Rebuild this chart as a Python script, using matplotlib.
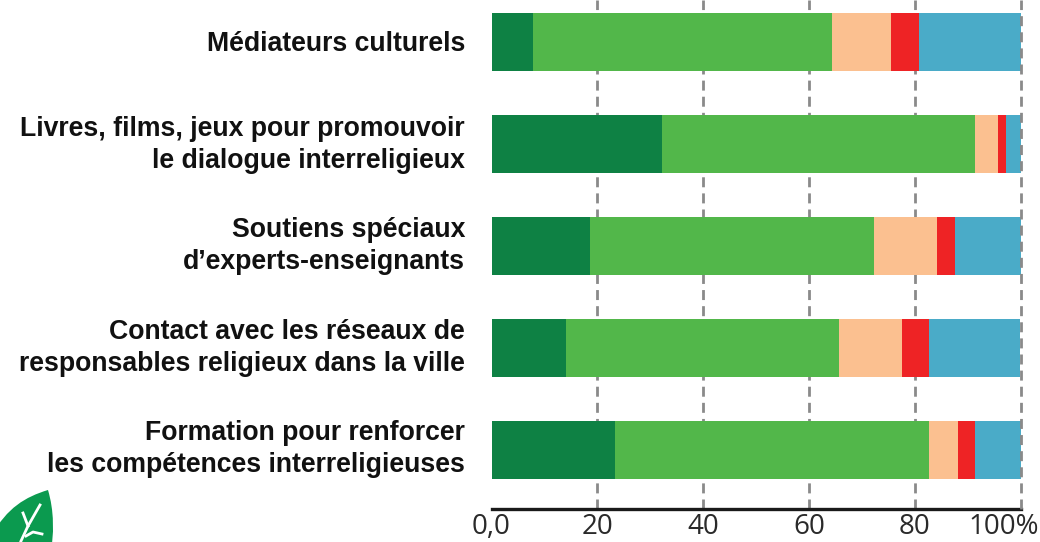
import numpy as np
import matplotlib
matplotlib.use("Agg")
import matplotlib.pyplot as plt
from matplotlib.path import Path
from matplotlib.patches import PathPatch
from matplotlib.transforms import ScaledTranslation

W, H = 1040, 542

categories = [
    "Médiateurs culturels",
    "Livres, films, jeux pour promouvoir\nle dialogue interreligieux",
    "Soutiens spéciaux\nd’experts-enseignants",
    "Contact avec les réseaux de\nresponsables religieux dans la ville",
    "Formation pour renforcer\nles compétences interreligieuses",
]
dark_green = [7.8, 32.2, 18.6, 14.1, 23.3]
light_green = [56.6, 59.2, 53.7, 51.6, 59.4]
peach = [11.1, 4.3, 11.9, 11.9, 5.5]
red = [5.3, 1.6, 3.4, 5.1, 3.2]
blue = [19.2, 2.7, 12.4, 17.3, 8.6]
series = [dark_green, light_green, peach, red, blue]
colors = ["#0e8144", "#52b74a", "#fbc090", "#ee2325", "#4aabc8"]
tick_pos = [0, 20, 40, 60, 80, 100]
tick_labels = ["0,0", "20", "40", "60", "80", "100%"]

fig = plt.figure(figsize=(W / 100, H / 100), dpi=100)
ax = fig.add_axes([491.5 / W, 1 - 509 / H, 529 / W, 509 / H])
ax.patch.set_alpha(0)

y = np.arange(len(categories))
left = np.zeros(len(categories))
for vals, col in zip(series, colors):
    ax.barh(y, vals, left=left, height=0.57, color=col, zorder=3)
    left += np.array(vals)

ax.set_xlim(0, 100)
ax.set_ylim(4.58, -0.41)

# dashed guides, the last one shows over the bar ends
for t in tick_pos[1:]:
    ax.axvline(t, color="#8a8a8a", lw=2, dashes=(3.6, 2.2), zorder=2 if t < 100 else 4, clip_on=False)

for s in ["top", "left", "right"]:
    ax.spines[s].set_visible(False)
ax.spines["bottom"].set_linewidth(2.4)
ax.spines["bottom"].set_color("#1a1a1a")
ax.spines["bottom"].set_bounds(0, 100)

ax.set_yticks(y, categories, fontsize=19.2, fontweight="bold", family="Liberation Sans",
              color="#111111", linespacing=1.32)
ax.tick_params(axis="y", length=0, pad=19)
ax.set_xticks(tick_pos, tick_labels, fontsize=20, family="Open Sans", color="#2a2a2a")
ax.tick_params(axis="x", length=0, pad=3)

# two-line labels sit a little low, nudge them up to line up with the bars
for lab, up in zip(ax.get_yticklabels(), [1, 5, 6, 6, 7]):
    lab.set_transform(lab.get_transform() + ScaledTranslation(0, up / 100, fig.dpi_scale_trans))

# last label would run off the right edge if centred on its tick
last = ax.get_xticklabels()[-1]
last.set_ha("right")
last.set_transform(last.get_transform() + ScaledTranslation(18 / 100, 0, fig.dpi_scale_trans))

# leaf logo bottom left
def px(points):
    return [(a / W, 1 - b / H) for a, b in points]

leaf = Path(
    px([(48, 490), (25, 497), (7, 508), (-8, 535), (-8, 560), (50, 560), (57, 520), (48, 490)]),
    [Path.MOVETO, Path.CURVE4, Path.CURVE4, Path.CURVE4, Path.LINETO, Path.LINETO, Path.CURVE3, Path.CURVE3],
)
fig.add_artist(PathPatch(leaf, transform=fig.transFigure, fc="#0b9a4f", ec="none"))
for seg in ([(40, 505), (28, 526), (21, 541)], [(23, 513), (28, 526)], [(26, 536), (33, 532), (42, 534)]):
    xs, ys = zip(*px(seg))
    fig.add_artist(plt.Line2D(xs, ys, transform=fig.transFigure, color="white", lw=2))

fig.savefig("out.png", dpi=100)
